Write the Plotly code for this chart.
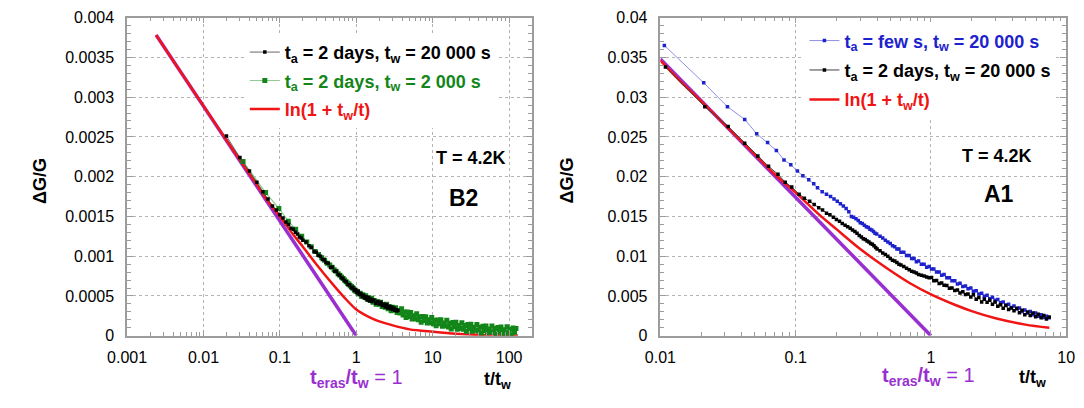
import plotly.graph_objects as go

FONT = "Liberation Sans, Arial, Helvetica, sans-serif"
W, H = 1084, 408

PURPLE = "#9a2fd0"
RED = "#f01414"
GREEN = "#13861a"
GREEN_LINE = "#8fcc8f"
BLUE = "#1e22cc"
BLUE_LINE = "#8c8ee6"
BLACK = "#000000"
GRID = "#b4b4b4"
FRAME = "#9c9c9c"

# ---------------- sample B2 (left) ----------------
b2_x_tickvals = [0.001, 0.01, 0.1, 1, 10, 100]
b2_x_ticktext = ["0.001", "0.01", "0.1", "1", "10", "100"]
b2_y_tickvals = [0, 0.0005, 0.001, 0.0015, 0.002, 0.0025, 0.003, 0.0035, 0.004]
b2_y_ticktext = ["0", "0.0005", "0.001", "0.0015", "0.002", "0.0025", "0.003", "0.0035", "0.004"]

# straight log-decay guide reaching zero at t_eras / t_w = 1
b2_eras_x = [0.0024, 1.0]
b2_eras_y = [37.8e-4, 0.0]

# ln(1 + t_w/t)
b2_ln_x = [0.0024, 0.005, 0.01, 0.02, 0.03, 0.05, 0.07, 0.1, 0.15, 0.2, 0.3, 0.5,
           0.7, 1.0, 1.5, 2.0, 3.0, 5.0, 10, 20, 50, 130]
b2_ln_y = [37.8e-4, 33.2e-4, 28.9e-4, 24.6e-4, 22.1e-4, 19.0e-4, 16.9e-4, 15.0e-4,
           12.7e-4, 11.2e-4, 9.0e-4, 6.4e-4, 4.8e-4, 3.3e-4, 2.3e-4, 1.8e-4, 1.3e-4,
           0.8e-4, 0.5e-4, 0.25e-4, 0.08e-4, 0.03e-4]

# t_a = 2 days, t_w = 20 000 s
b2_k20000_x = [0.02, 0.03, 0.04, 0.05, 0.06, 0.07, 0.08, 0.09, 0.10,
               0.11, 0.12, 0.13, 0.14, 0.15, 0.16, 0.17, 0.18, 0.19, 0.20,
               0.22, 0.24, 0.26, 0.28, 0.30, 0.32, 0.34, 0.36, 0.38, 0.40,
               0.43, 0.46, 0.49, 0.52, 0.55, 0.58, 0.61, 0.64, 0.67, 0.70,
               0.74, 0.78, 0.82, 0.86, 0.90, 0.94, 0.98, 1.02, 1.06, 1.10,
               1.15, 1.20, 1.25, 1.30, 1.35, 1.40, 1.45, 1.50, 1.55, 1.60,
               1.70, 1.80, 1.90, 2.00, 2.10, 2.20, 2.30, 2.40, 2.50, 2.60,
               2.70, 2.80, 2.90, 3.00, 3.10, 3.20, 3.30, 3.40, 3.50]
b2_k20000_y = [25.1e-4, 22.4e-4, 20.7e-4, 19.3e-4, 18.1e-4, 17.2e-4, 16.3e-4, 15.8e-4, 15.2e-4,
               14.8e-4, 14.3e-4, 14.0e-4, 13.5e-4, 13.4e-4, 13.0e-4, 12.8e-4, 12.4e-4, 12.3e-4, 12.0e-4,
               11.8e-4, 11.3e-4, 11.1e-4, 10.6e-4, 10.5e-4, 10.1e-4, 10.0e-4, 9.6e-4, 9.6e-4, 9.2e-4,
               9.1e-4, 8.6e-4, 8.6e-4, 8.1e-4, 8.1e-4, 7.7e-4, 7.6e-4, 7.3e-4, 7.2e-4, 6.9e-4,
               6.8e-4, 6.4e-4, 6.4e-4, 6.0e-4, 6.1e-4, 5.7e-4, 5.8e-4, 5.4e-4, 5.6e-4, 5.2e-4,
               5.3e-4, 4.9e-4, 5.1e-4, 4.7e-4, 4.9e-4, 4.5e-4, 4.8e-4, 4.4e-4, 4.6e-4, 4.3e-4,
               4.5e-4, 4.1e-4, 4.3e-4, 4.0e-4, 4.2e-4, 3.8e-4, 4.0e-4, 3.6e-4, 3.9e-4, 3.5e-4,
               3.7e-4, 3.4e-4, 3.6e-4, 3.3e-4, 3.5e-4, 3.2e-4, 3.3e-4, 3.1e-4, 3.2e-4]

# t_a = 2 days, t_w = 2 000 s
b2_k2000_x = [0.033, 0.065, 0.097, 0.129, 0.161, 0.193, 0.225, 0.257, 0.289, 0.321,
              0.353, 0.385, 0.417, 0.449, 0.481, 0.513, 0.545, 0.577, 0.609, 0.641,
              0.673, 0.705, 0.737, 0.769, 0.801, 0.833, 0.865, 0.897, 0.929, 0.961,
              0.993, 1.03, 1.07, 1.12, 1.17, 1.22, 1.27, 1.33, 1.39, 1.45,
              1.52, 1.59, 1.66, 1.74, 1.82, 1.90, 1.99, 2.08, 2.18, 2.28,
              2.38, 2.49, 2.61, 2.73, 2.86, 2.99, 3.13, 3.27, 3.42, 3.58,
              3.75, 3.92, 4.10, 4.29, 4.49, 4.70, 4.92, 5.15, 5.39, 5.64,
              5.90, 6.17, 6.46, 6.76, 7.07, 7.40, 7.75, 8.11, 8.48, 8.88,
              9.29, 9.72, 10.2, 10.6, 11.1, 11.7, 12.2, 12.8, 13.4, 14.0,
              14.6, 15.3, 16.0, 16.8, 17.5, 18.4, 19.2, 20.1, 21.0, 22.0,
              23.0, 24.1, 25.2, 26.4, 27.6, 28.9, 30.2, 31.6, 33.1, 34.6,
              36.2, 37.9, 39.7, 41.5, 43.4, 45.5, 47.6, 49.8, 52.1, 54.5,
              57.0, 59.7, 62.4, 65.3, 68.4, 71.5, 74.9, 78.3, 82.0, 85.8,
              89.8, 94.0, 98.3, 103, 108, 113, 118, 123]
b2_k2000_y = [21.9e-4, 18.0e-4, 16.0e-4, 14.4e-4, 13.4e-4, 12.5e-4, 11.8e-4, 11.2e-4, 10.6e-4, 10.2e-4,
              9.8e-4, 9.5e-4, 9.1e-4, 8.9e-4, 8.6e-4, 8.3e-4, 8.1e-4, 7.8e-4, 7.6e-4, 7.4e-4,
              7.2e-4, 7.0e-4, 6.8e-4, 6.6e-4, 6.5e-4, 6.3e-4, 6.2e-4, 6.0e-4, 5.9e-4, 5.7e-4,
              5.6e-4, 5.55e-4, 5.29e-4, 5.34e-4, 4.98e-4, 5.16e-4, 4.87e-4, 5.02e-4, 4.62e-4, 4.78e-4,
              4.42e-4, 4.70e-4, 4.22e-4, 4.39e-4, 3.95e-4, 4.28e-4, 3.95e-4, 4.20e-4, 3.68e-4, 3.88e-4,
              3.58e-4, 3.96e-4, 3.40e-4, 3.63e-4, 3.13e-4, 3.57e-4, 3.21e-4, 3.51e-4, 2.93e-4, 3.16e-4,
              2.87e-4, 3.40e-4, 2.62e-4, 2.98e-4, 2.28e-4, 2.97e-4, 2.43e-4, 2.93e-4, 2.12e-4, 2.52e-4,
              2.15e-4, 2.78e-4, 2.01e-4, 2.40e-4, 1.70e-4, 2.42e-4, 1.91e-4, 2.40e-4, 1.60e-4, 2.01e-4,
              1.64e-4, 2.28e-4, 1.52e-4, 1.94e-4, 1.27e-4, 1.99e-4, 1.50e-4, 2.01e-4, 1.20e-4, 1.61e-4,
              1.26e-4, 1.95e-4, 1.11e-4, 1.58e-4, 0.85e-4, 1.66e-4, 1.13e-4, 1.70e-4, 0.82e-4, 1.29e-4,
              0.91e-4, 1.64e-4, 0.82e-4, 1.30e-4, 0.57e-4, 1.40e-4, 0.87e-4, 1.45e-4, 0.58e-4, 1.06e-4,
              0.68e-4, 1.41e-4, 0.59e-4, 1.07e-4, 0.35e-4, 1.18e-4, 0.66e-4, 1.23e-4, 0.37e-4, 0.86e-4,
              0.49e-4, 1.22e-4, 0.41e-4, 0.90e-4, 0.19e-4, 1.03e-4, 0.52e-4, 1.11e-4, 0.26e-4, 0.75e-4,
              0.39e-4, 1.13e-4, 0.32e-4, 0.82e-4, 0.11e-4, 0.96e-4, 0.45e-4, 0.90e-4]

# ---------------- sample A1 (right) ----------------
a1_x_tickvals = [0.01, 0.1, 1, 10]
a1_x_ticktext = ["0.01", "0.1", "1", "10"]
a1_y_tickvals = [0, 0.005, 0.01, 0.015, 0.02, 0.025, 0.03, 0.035, 0.04]
a1_y_ticktext = ["0", "0.005", "0.01", "0.015", "0.02", "0.025", "0.03", "0.035", "0.04"]

a1_eras_x = [0.01, 1.0]
a1_eras_y = [34.8e-3, 0.0]

a1_ln_x = [0.01, 0.015, 0.02, 0.03, 0.05, 0.07, 0.1, 0.15, 0.2, 0.3, 0.5, 0.7,
           1.0, 1.5, 2.0, 3.0, 5.0, 7.5]
a1_ln_y = [34.6e-3, 31.5e-3, 29.5e-3, 26.5e-3, 22.8e-3, 20.3e-3, 18.0e-3, 15.2e-3,
           13.4e-3, 10.9e-3, 8.2e-3, 6.6e-3, 5.2e-3, 3.9e-3, 3.1e-3, 2.2e-3, 1.4e-3, 1.0e-3]

# t_a = few s, t_w = 20 000 s
a1_fresh_x = [0.0107, 0.0209, 0.0313, 0.042, 0.0515, 0.062, 0.072, 0.082, 0.092, 0.103,
              0.113, 0.125, 0.136, 0.145, 0.157, 0.169, 0.181, 0.192, 0.203, 0.214,
              0.225, 0.236, 0.247, 0.258, 0.268, 0.279, 0.290, 0.300, 0.311, 0.322,
              0.333, 0.344, 0.354, 0.365, 0.376, 0.386, 0.397, 0.42, 0.44, 0.46,
              0.48, 0.50, 0.52, 0.54, 0.56, 0.58, 0.60, 0.63, 0.66, 0.69,
              0.72, 0.75, 0.78, 0.81, 0.85, 0.89, 0.93, 0.97, 1.01, 1.05,
              1.10, 1.15, 1.20, 1.25, 1.31, 1.37, 1.43, 1.50, 1.57, 1.64,
              1.72, 1.80, 1.88, 1.97, 2.06, 2.16, 2.26, 2.37, 2.48, 2.60,
              2.72, 2.85, 2.98, 3.12, 3.27, 3.42, 3.58, 3.75, 3.93, 4.11,
              4.31, 4.51, 4.72, 4.94, 5.18, 5.42, 5.68, 5.94, 6.22, 6.52,
              6.82, 7.14, 7.48]
a1_fresh_y = [36.5e-3, 31.8e-3, 28.8e-3, 27.2e-3, 25.4e-3, 24.3e-3, 23.3e-3, 22.1e-3, 21.5e-3, 20.7e-3,
              20.1e-3, 19.6e-3, 19.1e-3, 18.6e-3, 18.1e-3, 17.8e-3, 17.5e-3, 17.2e-3, 16.9e-3, 16.6e-3,
              16.3e-3, 16.0e-3, 15.6e-3, 15.0e-3, 14.9e-3, 14.7e-3, 14.5e-3, 14.2e-3, 14.1e-3, 13.9e-3,
              13.7e-3, 13.6e-3, 13.4e-3, 13.3e-3, 13.1e-3, 12.9e-3, 12.8e-3, 12.5e-3, 12.3e-3, 12.0e-3,
              11.8e-3, 11.6e-3, 11.3e-3, 11.2e-3, 10.9e-3, 10.9e-3, 10.5e-3, 10.5e-3, 10.1e-3, 10.1e-3,
              9.7e-3, 9.7e-3, 9.3e-3, 9.4e-3, 9.0e-3, 9.0e-3, 8.6e-3, 8.7e-3, 8.4e-3, 8.4e-3,
              8.0e-3, 8.0e-3, 7.6e-3, 7.7e-3, 7.3e-3, 7.3e-3, 6.9e-3, 6.9e-3, 6.5e-3, 6.6e-3,
              6.2e-3, 6.25e-3, 5.9e-3, 6.0e-3, 5.6e-3, 5.65e-3, 5.25e-3, 5.35e-3, 4.95e-3, 5.1e-3,
              4.65e-3, 4.85e-3, 4.45e-3, 4.55e-3, 4.15e-3, 4.25e-3, 3.85e-3, 3.95e-3, 3.55e-3, 3.75e-3,
              3.35e-3, 3.5e-3, 3.05e-3, 3.25e-3, 2.85e-3, 3.05e-3, 2.65e-3, 2.85e-3, 2.45e-3, 2.65e-3,
              2.3e-3, 2.45e-3, 2.25e-3]

# t_a = 2 days, t_w = 20 000 s
a1_aged_x = [0.0109, 0.0213, 0.0317, 0.042, 0.0525, 0.063, 0.074, 0.0837, 0.0935, 0.106,
             0.116, 0.127, 0.137, 0.148, 0.158, 0.169, 0.179, 0.190, 0.200, 0.211,
             0.221, 0.232, 0.242, 0.253, 0.263, 0.274, 0.284, 0.295, 0.306, 0.316,
             0.327, 0.337, 0.348, 0.358, 0.369, 0.379, 0.390, 0.40, 0.42, 0.44,
             0.46, 0.48, 0.50, 0.52, 0.54, 0.56, 0.58, 0.60, 0.63, 0.66,
             0.69, 0.72, 0.75, 0.78, 0.81, 0.85, 0.89, 0.93, 0.97, 1.01,
             1.05, 1.10, 1.15, 1.20, 1.25, 1.31, 1.37, 1.43, 1.50, 1.57,
             1.64, 1.72, 1.80, 1.88, 1.97, 2.06, 2.16, 2.26, 2.37, 2.48,
             2.60, 2.72, 2.85, 2.98, 3.12, 3.27, 3.42, 3.58, 3.75, 3.93,
             4.11, 4.31, 4.51, 4.72, 4.94, 5.18, 5.42, 5.68, 5.94, 6.22,
             6.52, 6.82, 7.14, 7.48]
a1_aged_y = [33.8e-3, 28.8e-3, 26.3e-3, 24.2e-3, 22.6e-3, 21.3e-3, 20.3e-3, 19.3e-3, 18.7e-3, 17.8e-3,
             17.3e-3, 16.9e-3, 16.5e-3, 16.1e-3, 15.8e-3, 15.4e-3, 15.2e-3, 14.9e-3, 14.6e-3, 14.4e-3,
             14.1e-3, 13.9e-3, 13.7e-3, 13.5e-3, 13.3e-3, 13.1e-3, 12.9e-3, 12.6e-3, 12.4e-3, 12.2e-3,
             12.1e-3, 11.9e-3, 11.8e-3, 11.6e-3, 11.5e-3, 11.3e-3, 11.1e-3, 10.9e-3, 10.7e-3, 10.4e-3,
             10.2e-3, 10.0e-3, 9.7e-3, 9.5e-3, 9.4e-3, 9.2e-3, 9.0e-3, 8.9e-3, 8.7e-3, 8.5e-3,
             8.3e-3, 8.1e-3, 8.0e-3, 7.9e-3, 7.7e-3, 7.6e-3, 7.5e-3, 7.4e-3, 7.3e-3, 7.32e-3,
             6.90e-3, 6.96e-3, 6.58e-3, 6.62e-3, 6.34e-3, 6.32e-3, 5.96e-3, 5.99e-3, 5.70e-3, 5.76e-3,
             5.38e-3, 5.52e-3, 5.20e-3, 5.26e-3, 4.88e-3, 5.15e-3, 4.60e-3, 4.80e-3, 4.25e-3, 4.60e-3,
             4.20e-3, 4.45e-3, 3.95e-3, 4.25e-3, 3.70e-3, 3.90e-3, 3.45e-3, 3.80e-3, 3.30e-3, 3.50e-3,
             3.15e-3, 3.45e-3, 2.90e-3, 3.20e-3, 2.65e-3, 3.00e-3, 2.55e-3, 2.85e-3, 2.40e-3, 2.70e-3,
             2.25e-3, 2.55e-3, 2.10e-3, 2.35e-3]


def fx(p):
    return p / W


def fy(p):
    return 1 - p / H


def bold_entry(text, color):
    return f'<span style="color:{color}"><b>{text}</b></span>'


fig = go.Figure()

# ---- left panel ----
fig.add_trace(go.Scatter(x=b2_eras_x, y=b2_eras_y, mode="lines",
                         line=dict(color=PURPLE, width=3.5), showlegend=False,
                         xaxis="x", yaxis="y", hoverinfo="skip"))
fig.add_trace(go.Scatter(x=b2_ln_x, y=b2_ln_y, mode="lines",
                         line=dict(color=RED, width=2.5, shape="spline", smoothing=0.8),
                         name=bold_entry("ln(1 + t<sub>w</sub>/t)", RED),
                         legend="legend", legendgroup="b2ln", legendrank=3,
                         xaxis="x", yaxis="y"))
fig.add_trace(go.Scatter(x=b2_k2000_x, y=b2_k2000_y, mode="lines+markers",
                         line=dict(color=GREEN_LINE, width=1.2),
                         marker=dict(color=GREEN, size=5, symbol="square"),
                         name=bold_entry("t<sub>a</sub> = 2 days, t<sub>w</sub> = 2 000 s", GREEN),
                         legend="legend", legendgroup="b2g", legendrank=2,
                         xaxis="x", yaxis="y"))
fig.add_trace(go.Scatter(x=b2_k20000_x, y=b2_k20000_y, mode="lines+markers",
                         line=dict(color="#404040", width=0.8),
                         marker=dict(color=BLACK, size=3.5, symbol="square"),
                         name=bold_entry("t<sub>a</sub> = 2 days, t<sub>w</sub> = 20 000 s", BLACK),
                         legend="legend", legendgroup="b2k", legendrank=1,
                         xaxis="x", yaxis="y"))

# ---- right panel ----
fig.add_trace(go.Scatter(x=a1_eras_x, y=a1_eras_y, mode="lines",
                         line=dict(color=PURPLE, width=3.5), showlegend=False,
                         xaxis="x2", yaxis="y2", hoverinfo="skip"))
fig.add_trace(go.Scatter(x=a1_ln_x, y=a1_ln_y, mode="lines",
                         line=dict(color=RED, width=2.5, shape="spline", smoothing=0.8),
                         name=bold_entry("ln(1 + t<sub>w</sub>/t)", RED),
                         legend="legend2", legendgroup="a1ln", legendrank=3,
                         xaxis="x2", yaxis="y2"))
fig.add_trace(go.Scatter(x=a1_fresh_x, y=a1_fresh_y, mode="lines+markers",
                         line=dict(color=BLUE_LINE, width=1),
                         marker=dict(color=BLUE, size=3.5, symbol="square"),
                         name=bold_entry("t<sub>a</sub> = few s, t<sub>w</sub> = 20 000 s", BLUE),
                         legend="legend2", legendgroup="a1b", legendrank=1,
                         xaxis="x2", yaxis="y2"))
fig.add_trace(go.Scatter(x=a1_aged_x, y=a1_aged_y, mode="lines+markers",
                         line=dict(color="#404040", width=1),
                         marker=dict(color=BLACK, size=3.5, symbol="square"),
                         name=bold_entry("t<sub>a</sub> = 2 days, t<sub>w</sub> = 20 000 s", BLACK),
                         legend="legend2", legendgroup="a1k", legendrank=2,
                         xaxis="x2", yaxis="y2"))

tickfont = dict(family=FONT, size=16, color="black")
common = dict(showline=True, linecolor=FRAME, linewidth=1.5, mirror="allticks",
              ticks="inside", ticklen=6, tickcolor=FRAME, tickwidth=1,
              showgrid=True, gridcolor=GRID, griddash="dot", gridwidth=1,
              zeroline=False, tickfont=tickfont, tickmode="array")

ydom = [(H - 342) / H, (H - 10) / H]

fig.update_layout(
    width=W, height=H,
    margin=dict(l=0, r=0, t=0, b=0),
    paper_bgcolor="white", plot_bgcolor="white",
    font=dict(family=FONT, color="black"),
    xaxis=dict(domain=[fx(110), fx(526)], type="log", range=[-3, 2.299], anchor="y",
               tickvals=b2_x_tickvals, ticktext=b2_x_ticktext, ticklabelstandoff=6,
               minor=dict(tickmode="linear", dtick="D1", ticks="inside", ticklen=4,
                          tickcolor=FRAME, showgrid=False),
               **common),
    yaxis=dict(domain=ydom, range=[0, 0.004], anchor="x",
               tickvals=b2_y_tickvals, ticktext=b2_y_ticktext, ticklabelstandoff=8,
               minor=dict(tickmode="linear", tick0=0, dtick=0.0001, ticks="inside", ticklen=4,
                          tickcolor=FRAME, showgrid=False),
               **common),
    xaxis2=dict(domain=[fx(658), fx(1075)], type="log", range=[-2, 1], anchor="y2",
                tickvals=a1_x_tickvals, ticktext=a1_x_ticktext, ticklabelstandoff=6,
                minor=dict(tickmode="linear", dtick="D1", ticks="inside", ticklen=4,
                           tickcolor=FRAME, showgrid=False),
                **common),
    yaxis2=dict(domain=ydom, range=[0, 0.04], anchor="x2",
                tickvals=a1_y_tickvals, ticktext=a1_y_ticktext, ticklabelstandoff=8,
                minor=dict(tickmode="linear", tick0=0, dtick=0.001, ticks="inside", ticklen=4,
                           tickcolor=FRAME, showgrid=False),
                **common),
    legend=dict(x=fx(231), y=fy(27), xanchor="left", yanchor="top",
                bgcolor="white", borderwidth=0, traceorder="grouped",
                tracegroupgap=2, itemwidth=30,
                font=dict(family=FONT, size=18, color="black")),
    legend2=dict(x=fx(806), y=fy(15), xanchor="left", yanchor="top",
                 bgcolor="white", borderwidth=0, traceorder="grouped",
                 tracegroupgap=3, itemwidth=30,
                 font=dict(family=FONT, size=18, color="black")),
    showlegend=True,
)

annotations = [
    dict(text="<b>ΔG/G</b>", x=fx(20), y=fy(180), textangle=-90, size=18, color=BLACK),
    dict(text="<b>ΔG/G</b>", x=fx(562), y=fy(180), textangle=-90, size=18, color=BLACK),
    dict(text="<b>T = 4.2K</b>", x=fx(463), y=fy(157), size=18, color=BLACK),
    dict(text="<b>T = 4.2K</b>", x=fx(1004), y=fy(154), size=18, color=BLACK),
    dict(text="<b>B2</b>", x=fx(456), y=fy(198), size=23, color=BLACK),
    dict(text="<b>A1</b>", x=fx(1006), y=fy(194), size=23, color=BLACK),
    dict(text="<b>t<sub>eras</sub>/t<sub>w</sub></b> = 1", x=fx(346), y=fy(387), size=20, color=PURPLE),
    dict(text="<b>t<sub>eras</sub>/t<sub>w</sub></b> = 1", x=fx(933), y=fy(385), size=20, color=PURPLE),
    dict(text="<b>t/t<sub>w</sub></b>", x=fx(491), y=fy(389), size=18, color=BLACK),
    dict(text="<b>t/t<sub>w</sub></b>", x=fx(1040), y=fy(387), size=18, color=BLACK),
]
for a in annotations:
    fig.add_annotation(
        text=a["text"], x=a["x"], y=a["y"], xref="paper", yref="paper",
        xanchor="center", yanchor="middle", showarrow=False,
        textangle=a.get("textangle", 0),
        font=dict(family=FONT, size=a["size"], color=a["color"]),
    )

fig.write_html("out.html")
